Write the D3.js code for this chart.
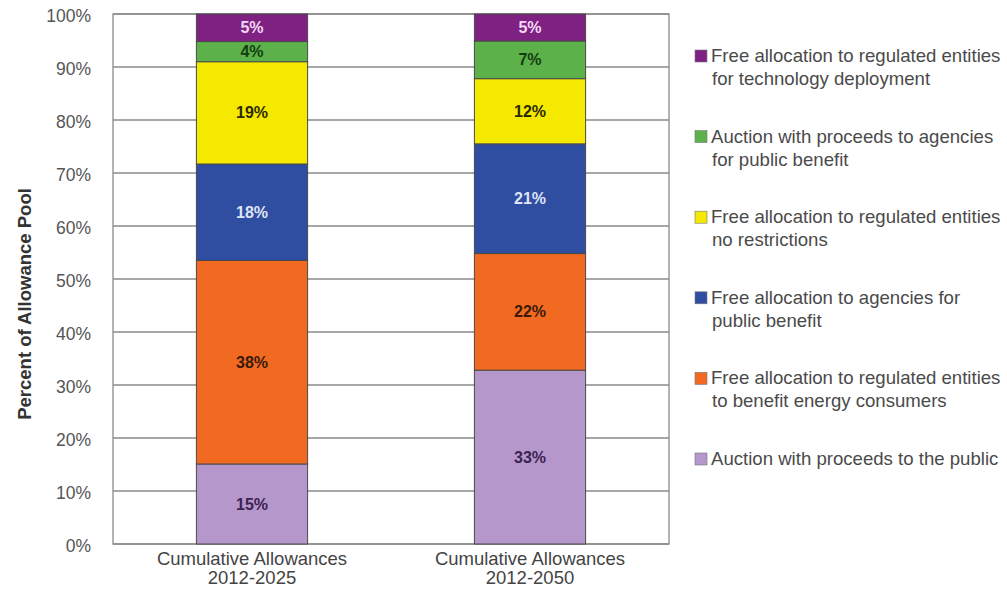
<!DOCTYPE html>
<html><head><meta charset="utf-8">
<script src="https://cdn.jsdelivr.net/npm/d3@7"></script>
<style>body{margin:0;background:#fff}svg{display:block}</style>
</head><body>
<svg id="c" width="1007" height="589"></svg>
<script>
const categories = ["Cumulative Allowances|2012-2025", "Cumulative Allowances|2012-2050"];
const seriesNames = [
  "Auction with proceeds to the public",
  "Free allocation to regulated entities|to benefit energy consumers",
  "Free allocation to agencies for|public benefit",
  "Free allocation to regulated entities|no restrictions",
  "Auction with proceeds to agencies|for public benefit",
  "Free allocation to regulated entities|for technology deployment"
];
const values2025 = [15.1, 38.4, 18.2, 19.3, 3.8, 5.2];
const values2050 = [32.8, 22.0, 20.7, 12.3, 7.1, 5.1];
const yTicks = [0, 10, 20, 30, 40, 50, 60, 70, 80, 90, 100];
const colors = ["#B597CB", "#F26A21", "#2F4EA2", "#F6E900", "#5DB14A", "#7E2183"];
const labelColors = ["#3a2350", "#3a1a08", "#dfe4f6", "#2b2a00", "#123d10", "#f3d8f3"];

const FONT = "Liberation Sans, Arial, sans-serif";
const svg = d3.select("#c");
const m = {l: 113, t: 14, r: 669, b: 544};
const x = d3.scaleBand().domain(categories).range([m.l, m.r]).paddingInner(0.6).paddingOuter(0.3);
const y = d3.scaleLinear().domain([0, 100]).range([m.b, m.t]);

// gridlines
svg.append("g").selectAll("line").data(yTicks).join("line")
  .attr("x1", m.l).attr("x2", m.r).attr("y1", d => y(d)).attr("y2", d => y(d))
  .attr("stroke", "#8a8a8a").attr("stroke-width", 1.3);
svg.append("rect").attr("x", m.l).attr("y", m.t).attr("width", m.r - m.l).attr("height", m.b - m.t)
  .attr("fill", "none").attr("stroke", "#8a8a8a").attr("stroke-width", 1.3);

// y axis labels
const yAxis = d3.axisLeft(y).tickValues(yTicks).tickFormat(d => d + "%").tickSize(0).tickPadding(22);
const ya = svg.append("g").attr("transform", `translate(${m.l},2)`).call(yAxis);
ya.select(".domain").remove();
ya.selectAll("text").attr("font-family", FONT).attr("font-size", 17.5).attr("fill", "#555");

svg.append("text").attr("transform", `translate(31,304) rotate(-90)`)
  .attr("text-anchor", "middle").attr("font-family", FONT)
  .attr("font-size", 18.5).attr("font-weight", "bold").attr("fill", "#333").text("Percent of Allowance Pool");

// stacked bars
const data = [values2025, values2050];
categories.forEach((cat, ci) => {
  const vals = data[ci];
  let acc = 0;
  const segs = vals.map((v, i) => { const s = {i, y0: acc, y1: acc + v, v}; acc += v; return s; });
  const g = svg.append("g");
  g.selectAll("rect").data(segs).join("rect")
    .attr("x", x(cat)).attr("width", x.bandwidth())
    .attr("y", d => y(d.y1)).attr("height", d => y(d.y0) - y(d.y1))
    .attr("fill", d => colors[d.i]).attr("stroke", "#4a4a4a").attr("stroke-width", 1);
  g.selectAll("text").data(segs).join("text")
    .attr("x", x(cat) + x.bandwidth() / 2).attr("y", d => y((d.y0 + d.y1) / 2))
    .attr("dy", "0.35em").attr("text-anchor", "middle")
    .attr("font-family", FONT).attr("font-size", 16).attr("font-weight", "bold")
    .attr("fill", d => labelColors[d.i]).text(d => Math.round(d.v) + "%");
  const parts = cat.split("|");
  svg.append("g").selectAll("text").data(parts).join("text")
    .attr("x", x(cat) + x.bandwidth() / 2).attr("y", (d, k) => 565 + k * 19)
    .attr("text-anchor", "middle").attr("font-family", FONT)
    .attr("font-size", 18.5).attr("fill", "#444").text(d => d);
});

// legend (top entry = last series)
const legendOrder = d3.range(seriesNames.length).reverse();
const lg = svg.append("g");
legendOrder.forEach((si, k) => {
  const ly = 62 + k * 80.6;
  lg.append("rect").attr("x", 695).attr("y", ly - 12).attr("width", 12).attr("height", 12)
    .attr("fill", colors[si]).attr("stroke", "#777").attr("stroke-width", 0.6);
  seriesNames[si].split("|").forEach((line, j) => {
    lg.append("text").attr("x", j === 0 ? 711 : 712).attr("y", ly + j * 23)
      .attr("font-family", FONT).attr("font-size", 18.6)
      .attr("fill", "#4a4a4a").text(line);
  });
});
</script>
</body></html>
